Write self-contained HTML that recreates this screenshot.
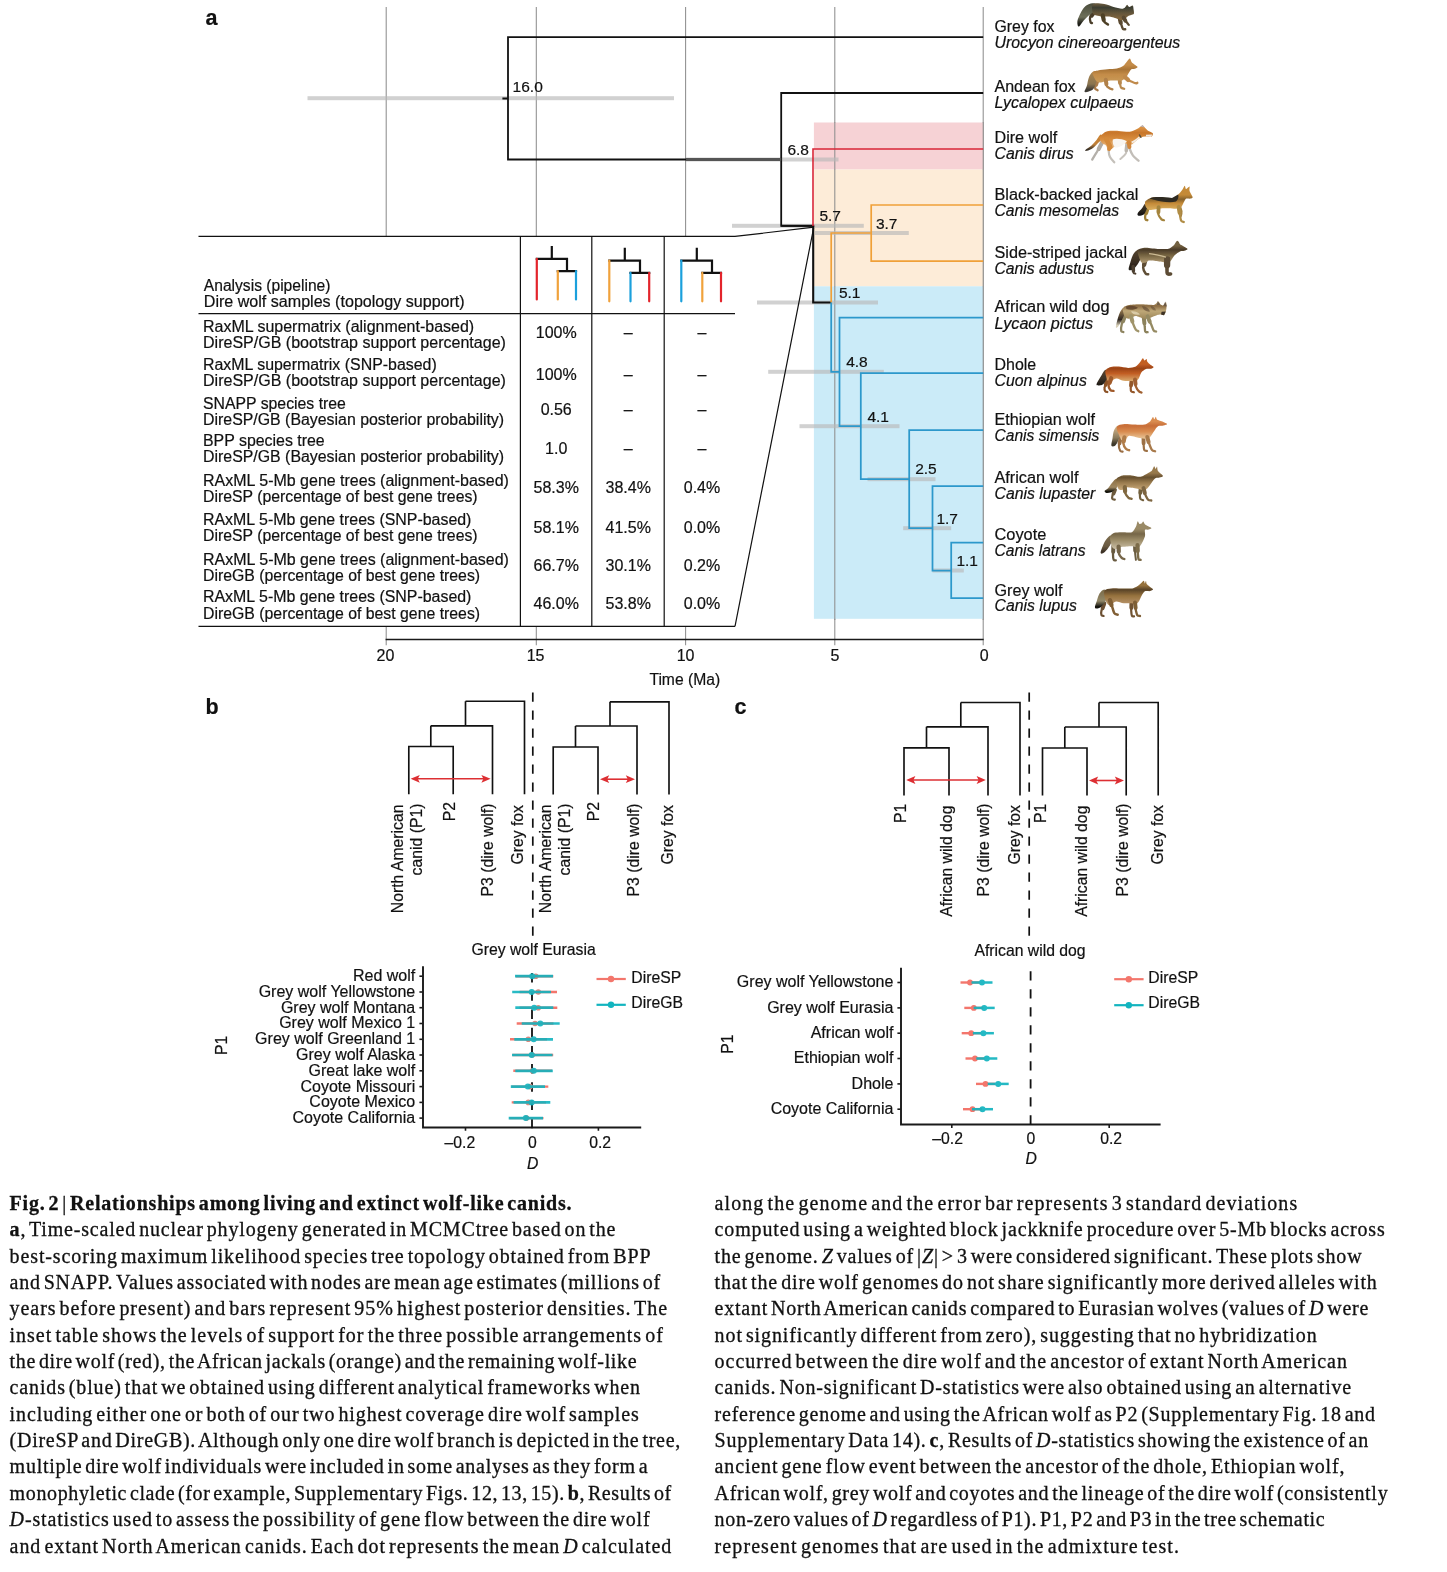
<!DOCTYPE html>
<html lang="en"><head><meta charset="utf-8"><title>Fig. 2 | Relationships among living and extinct wolf-like canids</title>
<style>
html,body{margin:0;padding:0;background:#fff;}
body{width:1447px;height:1572px;overflow:hidden;position:relative;}
svg{position:absolute;left:0;top:0;display:block;will-change:transform;}
svg text{font-family:"Liberation Sans",Arial,Helvetica,sans-serif;fill:#111;stroke:#111;stroke-width:0.2px;}
svg text.cap{font-family:"Liberation Serif","Times New Roman",Times,serif;font-size:20.0px;word-spacing:-2.8px;fill:#111;stroke:#111;stroke-width:0.3px;}
</style></head><body>
<svg width="1447" height="1572" viewBox="0 0 1447 1572">
<g id="panel-a">
<line x1="386.2" y1="7" x2="386.2" y2="645.2" stroke="#8e8e8e" stroke-width="1.05"/>
<line x1="536.3" y1="7" x2="536.3" y2="645.2" stroke="#8e8e8e" stroke-width="1.05"/>
<line x1="685.6" y1="7" x2="685.6" y2="645.2" stroke="#8e8e8e" stroke-width="1.05"/>
<line x1="834.8" y1="7" x2="834.8" y2="645.2" stroke="#8e8e8e" stroke-width="1.05"/>
<line x1="983.2" y1="7" x2="983.2" y2="645.2" stroke="#8e8e8e" stroke-width="1.05"/>
<rect x="813.9" y="122.5" width="169.3" height="47" fill="#f6d2d5"/>
<rect x="813.9" y="169.5" width="169.3" height="116.8" fill="#fdecd8"/>
<rect x="813.9" y="286.3" width="169.3" height="332.5" fill="#cbebf8"/>
<line x1="834.8" y1="122" x2="834.8" y2="620" stroke="#8e8e8e" stroke-width="1.05"/>
<line x1="983.2" y1="122" x2="983.2" y2="620" stroke="#8e8e8e" stroke-width="1.05"/>
<polygon points="198,236.4 735,236.4 735,626.4 198,626.4" fill="#fff"/>
<rect x="307.5" y="96.2" width="366.5" height="4" fill="#b8b8b8" fill-opacity="0.65"/>
<rect x="686" y="157.5" width="152.5" height="4" fill="#b8b8b8" fill-opacity="0.65"/>
<rect x="732" y="223.8" width="131.8" height="4" fill="#b8b8b8" fill-opacity="0.65"/>
<rect x="815" y="231.0" width="93.8" height="4" fill="#b8b8b8" fill-opacity="0.65"/>
<rect x="757" y="300.5" width="121.0" height="4" fill="#b8b8b8" fill-opacity="0.65"/>
<rect x="768.2" y="369.8" width="115.6" height="4" fill="#b8b8b8" fill-opacity="0.65"/>
<rect x="799.5" y="424.2" width="100.0" height="4" fill="#b8b8b8" fill-opacity="0.65"/>
<rect x="867.5" y="477.2" width="68.0" height="4" fill="#b8b8b8" fill-opacity="0.65"/>
<rect x="903.2" y="526.2" width="48.0" height="4" fill="#b8b8b8" fill-opacity="0.65"/>
<rect x="932.5" y="568.5" width="31.3" height="4" fill="#b8b8b8" fill-opacity="0.65"/>
<path d="M983.2 37.1 H508 V159.5 H781.2 M502.4 98.5 H508 M983.2 93 H781.2 V225.8 H813" stroke="#111" fill="none" stroke-width="1.8"/>
<path d="M686 159.5 H781.2" stroke="#555" fill="none" stroke-width="3"/>
<path d="M813.2 225.8 V302.5 H831.2" stroke="#111" fill="none" stroke-width="2.1"/>
<path d="M781.2 225.8 H814.2" stroke="#111" fill="none" stroke-width="1.9"/>
<path d="M983.2 149 H813 V226" stroke="#d92738" fill="none" stroke-width="1.6"/>
<path d="M831.2 302.5 V233 H871.2 M983.2 205 H871.2 V261.2 H983.2" stroke="#f0a038" fill="none" stroke-width="1.7"/>
<path d="M831.2 302.5 V371.8 H839.5 M983.2 317.5 H839.5 V426.2 H860.8 M983.2 373.2 H860.8 V479.2 H909.2 M983.2 430 H909.2 V528.2 H932.5 M983.2 486.2 H932.5 V570.5 H951.2 M983.2 542.5 H951.2 V598.2 H983.2" stroke="#2c98cb" fill="none" stroke-width="1.75"/>
<path d="M735 236.4 L814 227.2 M735 626.4 L813.6 228" stroke="#111" fill="none" stroke-width="1.2"/>
<text x="512.6" y="92" font-size="15.5">16.0</text>
<text x="787.4" y="154.5" font-size="15.5">6.8</text>
<text x="819.4" y="220.8" font-size="15.5">5.7</text>
<text x="875.9" y="228.8" font-size="15.5">3.7</text>
<text x="838.9" y="297.5" font-size="15.5">5.1</text>
<text x="846.1999999999999" y="366.8" font-size="15.5">4.8</text>
<text x="867.4" y="422" font-size="15.5">4.1</text>
<text x="915.1999999999999" y="473.8" font-size="15.5">2.5</text>
<text x="936.4" y="523.8" font-size="15.5">1.7</text>
<text x="956.4" y="565.5" font-size="15.5">1.1</text>
<text x="994.5" y="32" font-size="16.0" textLength="59.9" lengthAdjust="spacingAndGlyphs">Grey fox</text>
<text x="994.5" y="48" font-size="16.0" font-style="italic" textLength="185.8" lengthAdjust="spacingAndGlyphs">Urocyon cinereoargenteus</text>
<text x="994.5" y="91.8" font-size="16.0" textLength="81.1" lengthAdjust="spacingAndGlyphs">Andean fox</text>
<text x="994.5" y="107.6" font-size="16.0" font-style="italic" textLength="139.3" lengthAdjust="spacingAndGlyphs">Lycalopex culpaeus</text>
<text x="994.5" y="142.6" font-size="16.0" textLength="62.7" lengthAdjust="spacingAndGlyphs">Dire wolf</text>
<text x="994.5" y="158.8" font-size="16.0" font-style="italic" textLength="79.1" lengthAdjust="spacingAndGlyphs">Canis dirus</text>
<text x="994.5" y="200" font-size="16.0" textLength="143.8" lengthAdjust="spacingAndGlyphs">Black-backed jackal</text>
<text x="994.5" y="215.8" font-size="16.0" font-style="italic" textLength="124.6" lengthAdjust="spacingAndGlyphs">Canis mesomelas</text>
<text x="994.5" y="257.6" font-size="16.0" textLength="132.5" lengthAdjust="spacingAndGlyphs">Side-striped jackal</text>
<text x="994.5" y="273.8" font-size="16.0" font-style="italic" textLength="99.7" lengthAdjust="spacingAndGlyphs">Canis adustus</text>
<text x="994.5" y="311.8" font-size="16.0" textLength="115.0" lengthAdjust="spacingAndGlyphs">African wild dog</text>
<text x="994.5" y="328.6" font-size="16.0" font-style="italic" textLength="98.6" lengthAdjust="spacingAndGlyphs">Lycaon pictus</text>
<text x="994.5" y="369.6" font-size="16.0" textLength="41.7" lengthAdjust="spacingAndGlyphs">Dhole</text>
<text x="994.5" y="386.2" font-size="16.0" font-style="italic" textLength="92.3" lengthAdjust="spacingAndGlyphs">Cuon alpinus</text>
<text x="994.5" y="425" font-size="16.0" textLength="100.5" lengthAdjust="spacingAndGlyphs">Ethiopian wolf</text>
<text x="994.5" y="441.2" font-size="16.0" font-style="italic" textLength="104.7" lengthAdjust="spacingAndGlyphs">Canis simensis</text>
<text x="994.5" y="482.6" font-size="16.0" textLength="83.9" lengthAdjust="spacingAndGlyphs">African wolf</text>
<text x="994.5" y="498.8" font-size="16.0" font-style="italic" textLength="100.8" lengthAdjust="spacingAndGlyphs">Canis lupaster</text>
<text x="994.5" y="539.6" font-size="16.0" textLength="51.9" lengthAdjust="spacingAndGlyphs">Coyote</text>
<text x="994.5" y="555.6" font-size="16.0" font-style="italic" textLength="91.0" lengthAdjust="spacingAndGlyphs">Canis latrans</text>
<text x="994.5" y="595.8" font-size="16.0" textLength="68.1" lengthAdjust="spacingAndGlyphs">Grey wolf</text>
<text x="994.5" y="611.4" font-size="16.0" font-style="italic" textLength="82.4" lengthAdjust="spacingAndGlyphs">Canis lupus</text>
<path d="M198.5 236.4 H735 M198.5 313.6 H735 M198.5 626.4 H735 M520.4 236.4 V626.4 M591.8 236.4 V626.4 M664.2 236.4 V626.4" stroke="#111" fill="none" stroke-width="1.2"/>
<path d="M551.8 247 V258.8 M536.8 258.8 H567 V271.1 M557.8 271.1 H576" stroke="#111" fill="none" stroke-width="2.2" stroke-linecap="square"/><path d="M536.8 258.8 V299.5" stroke="#e3242b" fill="none" stroke-width="2.2" stroke-linecap="round"/><path d="M557.8 271.1 V299.5" stroke="#f0a23c" fill="none" stroke-width="2.2" stroke-linecap="round"/><path d="M576 271.1 V299.5" stroke="#1ba0dc" fill="none" stroke-width="2.2" stroke-linecap="round"/>
<path d="M624.8 248.8 V260.6 M609.3 260.6 H640 V272.90000000000003 M630.5 272.90000000000003 H649.2" stroke="#111" fill="none" stroke-width="2.2" stroke-linecap="square"/><path d="M609.3 260.6 V301.3" stroke="#f0a23c" fill="none" stroke-width="2.2" stroke-linecap="round"/><path d="M630.5 272.90000000000003 V301.3" stroke="#1ba0dc" fill="none" stroke-width="2.2" stroke-linecap="round"/><path d="M649.2 272.90000000000003 V301.3" stroke="#e3242b" fill="none" stroke-width="2.2" stroke-linecap="round"/>
<path d="M696.8 248.8 V260.6 M681.3 260.6 H712 V272.90000000000003 M702.3 272.90000000000003 H721" stroke="#111" fill="none" stroke-width="2.2" stroke-linecap="square"/><path d="M681.3 260.6 V301.3" stroke="#1ba0dc" fill="none" stroke-width="2.2" stroke-linecap="round"/><path d="M702.3 272.90000000000003 V301.3" stroke="#f0a23c" fill="none" stroke-width="2.2" stroke-linecap="round"/><path d="M721 272.90000000000003 V301.3" stroke="#e3242b" fill="none" stroke-width="2.2" stroke-linecap="round"/>
<text x="203.8" y="290.8" font-size="16.0" textLength="126.7" lengthAdjust="spacingAndGlyphs">Analysis (pipeline)</text>
<text x="203.8" y="307" font-size="16.0" textLength="260.9" lengthAdjust="spacingAndGlyphs">Dire wolf samples (topology support)</text>
<text x="203" y="331.8" font-size="16.0" textLength="271.1" lengthAdjust="spacingAndGlyphs">RaxML supermatrix (alignment-based)</text>
<text x="203" y="348" font-size="16.0" textLength="302.9" lengthAdjust="spacingAndGlyphs">DireSP/GB (bootstrap support percentage)</text>
<text x="556.2" y="338.2" font-size="16.0" text-anchor="middle">100%</text>
<text x="628.2" y="338.2" font-size="16.0" text-anchor="middle">–</text>
<text x="702" y="338.2" font-size="16.0" text-anchor="middle">–</text>
<text x="203" y="370" font-size="16.0" textLength="233.7" lengthAdjust="spacingAndGlyphs">RaxML supermatrix (SNP-based)</text>
<text x="203" y="386.2" font-size="16.0" textLength="302.9" lengthAdjust="spacingAndGlyphs">DireSP/GB (bootstrap support percentage)</text>
<text x="556.2" y="379.5" font-size="16.0" text-anchor="middle">100%</text>
<text x="628.2" y="379.5" font-size="16.0" text-anchor="middle">–</text>
<text x="702" y="379.5" font-size="16.0" text-anchor="middle">–</text>
<text x="203" y="408.8" font-size="16.0" textLength="142.9" lengthAdjust="spacingAndGlyphs">SNAPP species tree</text>
<text x="203" y="425" font-size="16.0" textLength="301.1" lengthAdjust="spacingAndGlyphs">DireSP/GB (Bayesian posterior probability)</text>
<text x="556.2" y="414.5" font-size="16.0" text-anchor="middle">0.56</text>
<text x="628.2" y="414.5" font-size="16.0" text-anchor="middle">–</text>
<text x="702" y="414.5" font-size="16.0" text-anchor="middle">–</text>
<text x="203" y="445.8" font-size="16.0" textLength="121.7" lengthAdjust="spacingAndGlyphs">BPP species tree</text>
<text x="203" y="462.4" font-size="16.0" textLength="301.1" lengthAdjust="spacingAndGlyphs">DireSP/GB (Bayesian posterior probability)</text>
<text x="556.2" y="453.8" font-size="16.0" text-anchor="middle">1.0</text>
<text x="628.2" y="453.8" font-size="16.0" text-anchor="middle">–</text>
<text x="702" y="453.8" font-size="16.0" text-anchor="middle">–</text>
<text x="203" y="486.2" font-size="16.0" textLength="305.9" lengthAdjust="spacingAndGlyphs">RAxML 5-Mb gene trees (alignment-based)</text>
<text x="203" y="502" font-size="16.0" textLength="274.6" lengthAdjust="spacingAndGlyphs">DireSP (percentage of best gene trees)</text>
<text x="556.2" y="492.5" font-size="16.0" text-anchor="middle">58.3%</text>
<text x="628.2" y="492.5" font-size="16.0" text-anchor="middle">38.4%</text>
<text x="702" y="492.5" font-size="16.0" text-anchor="middle">0.4%</text>
<text x="203" y="524.5" font-size="16.0" textLength="268.4" lengthAdjust="spacingAndGlyphs">RAxML 5-Mb gene trees (SNP-based)</text>
<text x="203" y="540.8" font-size="16.0" textLength="274.6" lengthAdjust="spacingAndGlyphs">DireSP (percentage of best gene trees)</text>
<text x="556.2" y="532.5" font-size="16.0" text-anchor="middle">58.1%</text>
<text x="628.2" y="532.5" font-size="16.0" text-anchor="middle">41.5%</text>
<text x="702" y="532.5" font-size="16.0" text-anchor="middle">0.0%</text>
<text x="203" y="564.5" font-size="16.0" textLength="305.9" lengthAdjust="spacingAndGlyphs">RAxML 5-Mb gene trees (alignment-based)</text>
<text x="203" y="580.8" font-size="16.0" textLength="277.1" lengthAdjust="spacingAndGlyphs">DireGB (percentage of best gene trees)</text>
<text x="556.2" y="571.2" font-size="16.0" text-anchor="middle">66.7%</text>
<text x="628.2" y="571.2" font-size="16.0" text-anchor="middle">30.1%</text>
<text x="702" y="571.2" font-size="16.0" text-anchor="middle">0.2%</text>
<text x="203" y="602" font-size="16.0" textLength="268.4" lengthAdjust="spacingAndGlyphs">RAxML 5-Mb gene trees (SNP-based)</text>
<text x="203" y="618.8" font-size="16.0" textLength="277.1" lengthAdjust="spacingAndGlyphs">DireGB (percentage of best gene trees)</text>
<text x="556.2" y="608.8" font-size="16.0" text-anchor="middle">46.0%</text>
<text x="628.2" y="608.8" font-size="16.0" text-anchor="middle">53.8%</text>
<text x="702" y="608.8" font-size="16.0" text-anchor="middle">0.0%</text>
<path d="M385.6 639.5 H983.7" stroke="#1a1a1a" fill="none" stroke-width="1.7"/>
<text x="385.4" y="661.2" font-size="16.0" text-anchor="middle">20</text>
<text x="535.6" y="661.2" font-size="16.0" text-anchor="middle">15</text>
<text x="685.6" y="661.2" font-size="16.0" text-anchor="middle">10</text>
<text x="835" y="661.2" font-size="16.0" text-anchor="middle">5</text>
<text x="984.2" y="661.2" font-size="16.0" text-anchor="middle">0</text>
<text x="684.8" y="684.8" font-size="16.0" text-anchor="middle" textLength="70.8" lengthAdjust="spacingAndGlyphs">Time (Ma)</text>
<text x="205.5" y="25" font-size="21.5" font-weight="bold" stroke-width="1.7" stroke-linejoin="round">a</text>
</g>
<g id="animals">
<defs><filter id="soft" x="-10%" y="-10%" width="120%" height="120%"><feGaussianBlur stdDeviation="0.45"/></filter><linearGradient id="b-greyfox" gradientUnits="userSpaceOnUse" x1="0" y1="3.4" x2="0" y2="20.2"><stop offset="0" stop-color="#62543a"/><stop offset="0.068" stop-color="#62543a"/><stop offset="0.248" stop-color="#3c3e32"/><stop offset="0.554" stop-color="#62543a"/><stop offset="0.97" stop-color="#86683e"/></linearGradient><linearGradient id="t-greyfox" gradientUnits="userSpaceOnUse" x1="0" y1="3.4" x2="0" y2="26.0"><stop offset="0" stop-color="#4a4c3c"/><stop offset="0.6" stop-color="#6e705a"/><stop offset="0.9" stop-color="#1e1e18"/></linearGradient><linearGradient id="b-andean" gradientUnits="userSpaceOnUse" x1="0" y1="58.6" x2="0" y2="82.5"><stop offset="0" stop-color="#c48c48"/><stop offset="0.272" stop-color="#c48c48"/><stop offset="0.452" stop-color="#a87436"/><stop offset="0.666" stop-color="#c48c48"/><stop offset="0.97" stop-color="#c99a58"/></linearGradient><linearGradient id="t-andean" gradientUnits="userSpaceOnUse" x1="0" y1="72.3" x2="0" y2="91.8"><stop offset="0" stop-color="#a88450"/><stop offset="0.6" stop-color="#8a7450"/><stop offset="0.9" stop-color="#3e3a34"/></linearGradient><linearGradient id="b-dire" gradientUnits="userSpaceOnUse" x1="0" y1="125.6" x2="0" y2="150.0"><stop offset="0" stop-color="#d98f40"/><stop offset="0.112" stop-color="#d98f40"/><stop offset="0.292" stop-color="#c8762a"/><stop offset="0.578" stop-color="#d98f40"/><stop offset="0.97" stop-color="#e9c8a0"/></linearGradient><linearGradient id="t-dire" gradientUnits="userSpaceOnUse" x1="0" y1="134.6" x2="0" y2="150.8"><stop offset="0" stop-color="#c9802f"/><stop offset="0.6" stop-color="#c08038"/><stop offset="0.9" stop-color="#3a3228"/></linearGradient><linearGradient id="b-bbjackal" gradientUnits="userSpaceOnUse" x1="0" y1="185.7" x2="0" y2="210.0"><stop offset="0" stop-color="#c48a38"/><stop offset="0.378" stop-color="#c48a38"/><stop offset="0.558" stop-color="#86622c"/><stop offset="0.724" stop-color="#c48a38"/><stop offset="0.97" stop-color="#d8ac5c"/></linearGradient><linearGradient id="t-bbjackal" gradientUnits="userSpaceOnUse" x1="0" y1="203.8" x2="0" y2="215.8"><stop offset="0" stop-color="#4a3c28"/><stop offset="0.6" stop-color="#2a241c"/><stop offset="0.9" stop-color="#151412"/></linearGradient><linearGradient id="b-ssjackal" gradientUnits="userSpaceOnUse" x1="0" y1="241.0" x2="0" y2="262.5"><stop offset="0" stop-color="#72603f"/><stop offset="0.227" stop-color="#72603f"/><stop offset="0.407" stop-color="#4a3a28"/><stop offset="0.641" stop-color="#72603f"/><stop offset="0.97" stop-color="#a8926a"/></linearGradient><linearGradient id="t-ssjackal" gradientUnits="userSpaceOnUse" x1="0" y1="250.0" x2="0" y2="269.9"><stop offset="0" stop-color="#54422e"/><stop offset="0.6" stop-color="#3a2e22"/><stop offset="0.9" stop-color="#26201a"/></linearGradient><linearGradient id="b-awd" gradientUnits="userSpaceOnUse" x1="0" y1="301.5" x2="0" y2="318.6"><stop offset="0" stop-color="#bfa878"/><stop offset="0.067" stop-color="#bfa878"/><stop offset="0.247" stop-color="#8a6a40"/><stop offset="0.553" stop-color="#bfa878"/><stop offset="0.97" stop-color="#a08a5c"/></linearGradient><linearGradient id="t-awd" gradientUnits="userSpaceOnUse" x1="0" y1="308.1" x2="0" y2="327.4"><stop offset="0" stop-color="#a88858"/><stop offset="0.6" stop-color="#2e2620"/><stop offset="0.9" stop-color="#d8d0b8"/></linearGradient><linearGradient id="b-dhole" gradientUnits="userSpaceOnUse" x1="0" y1="358.3" x2="0" y2="381.4"><stop offset="0" stop-color="#c25e24"/><stop offset="0.262" stop-color="#c25e24"/><stop offset="0.442" stop-color="#9c4416"/><stop offset="0.660" stop-color="#c25e24"/><stop offset="0.97" stop-color="#d8a86c"/></linearGradient><linearGradient id="t-dhole" gradientUnits="userSpaceOnUse" x1="0" y1="369.8" x2="0" y2="385.4"><stop offset="0" stop-color="#5a4630"/><stop offset="0.6" stop-color="#3a3024"/><stop offset="0.9" stop-color="#221e18"/></linearGradient><linearGradient id="b-ethiopian" gradientUnits="userSpaceOnUse" x1="0" y1="416.7" x2="0" y2="440.6"><stop offset="0" stop-color="#d98c50"/><stop offset="0.202" stop-color="#d98c50"/><stop offset="0.382" stop-color="#c86e38"/><stop offset="0.627" stop-color="#d98c50"/><stop offset="0.97" stop-color="#ead0a6"/></linearGradient><linearGradient id="t-ethiopian" gradientUnits="userSpaceOnUse" x1="0" y1="425.9" x2="0" y2="445.8"><stop offset="0" stop-color="#d8b88c"/><stop offset="0.6" stop-color="#8a7a5c"/><stop offset="0.9" stop-color="#3e382c"/></linearGradient><linearGradient id="b-africanwolf" gradientUnits="userSpaceOnUse" x1="0" y1="466.3" x2="0" y2="490.2"><stop offset="0" stop-color="#97794c"/><stop offset="0.283" stop-color="#97794c"/><stop offset="0.463" stop-color="#66502f"/><stop offset="0.672" stop-color="#97794c"/><stop offset="0.97" stop-color="#c6a676"/></linearGradient><linearGradient id="t-africanwolf" gradientUnits="userSpaceOnUse" x1="0" y1="478.7" x2="0" y2="492.9"><stop offset="0" stop-color="#8a6e44"/><stop offset="0.6" stop-color="#a08860"/><stop offset="0.9" stop-color="#18160f"/></linearGradient><linearGradient id="b-coyote" gradientUnits="userSpaceOnUse" x1="0" y1="521.4" x2="0" y2="549.0"><stop offset="0" stop-color="#9a8a66"/><stop offset="0.275" stop-color="#9a8a66"/><stop offset="0.455" stop-color="#766648"/><stop offset="0.667" stop-color="#9a8a66"/><stop offset="0.97" stop-color="#c6baa0"/></linearGradient><linearGradient id="t-coyote" gradientUnits="userSpaceOnUse" x1="0" y1="535.6" x2="0" y2="553.3"><stop offset="0" stop-color="#7c6c4c"/><stop offset="0.6" stop-color="#6a5a42"/><stop offset="0.9" stop-color="#3e3226"/></linearGradient><linearGradient id="b-greywolf" gradientUnits="userSpaceOnUse" x1="0" y1="580.8" x2="0" y2="605.0"><stop offset="0" stop-color="#96723e"/><stop offset="0.190" stop-color="#96723e"/><stop offset="0.370" stop-color="#5a4428"/><stop offset="0.620" stop-color="#96723e"/><stop offset="0.97" stop-color="#b8946a"/></linearGradient><linearGradient id="t-greywolf" gradientUnits="userSpaceOnUse" x1="0" y1="589.5" x2="0" y2="608.6"><stop offset="0" stop-color="#7a6a48"/><stop offset="0.6" stop-color="#928868"/><stop offset="0.9" stop-color="#14120e"/></linearGradient></defs>
<g id="greyfox" filter="url(#soft)"><path d="M1119.8 19.6C1120.0 20.4 1120.8 22.9 1121.3 24.5C1121.8 26.1 1122.3 28.2 1123.0 29.0C1123.7 29.8 1124.8 29.2 1125.2 29.2" fill="none" stroke="#5a4a30" stroke-width="2.4" stroke-linecap="round" stroke-linejoin="round"/><path d="M1119.8 18.4 L1120.7 22.6" fill="none" stroke="#5a4a30" stroke-width="4.20" stroke-linecap="round"/><path d="M1094.0 13.8C1093.4 14.3 1090.8 15.4 1090.2 16.8C1089.6 18.2 1090.3 21.4 1090.6 22.4C1090.9 23.4 1091.8 22.9 1092.0 23.0" fill="none" stroke="#4a3e2a" stroke-width="2.3" stroke-linecap="round" stroke-linejoin="round"/><path d="M1094.0 12.6 L1091.6 15.7" fill="none" stroke="#4a3e2a" stroke-width="4.02" stroke-linecap="round"/><path d="M1094.9 3.4C1093.6 2.8 1090.1 3.5 1088.1 4.4C1086.1 5.3 1084.4 7.0 1083.1 8.7C1081.8 10.3 1080.9 12.3 1080.0 14.3C1079.1 16.3 1077.9 18.7 1077.5 20.6C1077.1 22.5 1077.5 24.9 1077.8 25.8C1078.1 26.7 1078.6 26.9 1079.6 26.0C1080.6 25.1 1082.2 22.3 1083.7 20.6C1085.2 18.9 1087.0 17.1 1088.7 15.6C1090.4 14.1 1092.5 13.1 1093.7 11.8C1094.9 10.5 1095.8 9.4 1096.0 8.0C1096.2 6.6 1096.2 4.0 1094.9 3.4Z" fill="url(#t-greyfox)"/><path d="M1092.0 6.0C1092.3 4.7 1093.3 3.7 1094.9 3.4C1096.5 3.1 1101.8 3.6 1104.3 4.1C1106.8 4.6 1111.3 6.3 1113.6 6.9C1115.9 7.5 1120.2 8.6 1121.7 8.7C1123.2 8.8 1124.3 7.9 1125.0 7.4C1125.7 6.9 1126.4 4.8 1127.0 4.7C1127.6 4.6 1128.4 6.8 1129.2 6.9C1130.0 7.0 1132.1 5.3 1132.7 5.6C1133.3 5.9 1133.4 8.3 1133.6 9.4C1133.8 10.5 1134.2 13.0 1133.9 13.7C1133.6 14.4 1131.9 14.7 1131.1 15.0C1130.3 15.3 1128.8 15.7 1128.0 16.2C1127.2 16.7 1125.8 18.4 1124.9 18.9C1124.0 19.4 1121.8 20.1 1121.0 20.2C1120.2 20.3 1120.0 19.8 1118.6 19.3C1117.2 18.8 1112.7 17.2 1110.5 16.8C1108.3 16.4 1104.3 16.8 1102.4 16.6C1100.5 16.4 1097.8 15.9 1096.5 15.5C1095.2 15.1 1093.6 14.8 1093.0 13.5C1092.4 12.2 1091.7 7.3 1092.0 6.0Z" fill="url(#b-greyfox)"/><path d="M1123.6 18.7C1124.1 19.2 1125.6 21.0 1126.5 22.0C1127.4 23.0 1128.4 24.4 1128.8 24.9" fill="none" stroke="#5a4a30" stroke-width="2.2" stroke-linecap="round" stroke-linejoin="round"/><path d="M1123.6 17.5 L1125.4 20.7" fill="none" stroke="#5a4a30" stroke-width="3.85" stroke-linecap="round"/><path d="M1102.8 16.5C1103.0 17.4 1103.4 20.5 1104.3 21.8C1105.2 23.1 1107.4 24.1 1108.0 24.5" fill="none" stroke="#4e4028" stroke-width="2.4" stroke-linecap="round" stroke-linejoin="round"/><path d="M1102.8 15.3 L1103.7 19.8" fill="none" stroke="#4e4028" stroke-width="4.20" stroke-linecap="round"/></g>
<g id="andean" filter="url(#soft)"><path d="M1119.6 80.5C1119.7 81.2 1120.0 83.3 1120.2 84.5C1120.5 85.7 1120.4 86.9 1121.1 87.6C1121.8 88.3 1123.7 88.6 1124.2 88.8" fill="none" stroke="#b8884e" stroke-width="2.2" stroke-linecap="round" stroke-linejoin="round"/><path d="M1119.6 79.3 L1120.0 83.0" fill="none" stroke="#b8884e" stroke-width="3.85" stroke-linecap="round"/><path d="M1097.2 82.0C1096.9 82.8 1095.5 85.4 1095.2 86.5C1094.9 87.6 1094.9 88.2 1095.3 88.8C1095.7 89.4 1097.2 90.0 1097.6 90.2" fill="none" stroke="#a87a48" stroke-width="2.3" stroke-linecap="round" stroke-linejoin="round"/><path d="M1097.2 80.8 L1096.0 84.8" fill="none" stroke="#a87a48" stroke-width="4.02" stroke-linecap="round"/><path d="M1092.4 72.3C1091.1 72.8 1089.6 75.6 1088.7 77.9C1087.8 80.2 1087.5 83.7 1086.8 86.0C1086.1 88.3 1084.2 90.9 1084.5 91.8C1084.8 92.7 1087.2 92.1 1088.7 91.6C1090.2 91.0 1092.4 90.3 1093.7 88.5C1095.0 86.7 1095.9 83.2 1096.4 81.0C1096.9 78.8 1097.2 76.5 1096.5 75.0C1095.8 73.5 1093.7 71.8 1092.4 72.3Z" fill="url(#t-andean)"/><path d="M1092.4 72.3C1092.7 71.0 1096.0 70.8 1098.0 70.4C1100.0 70.0 1104.9 69.4 1107.4 69.2C1109.9 69.0 1114.7 69.0 1116.8 68.6C1118.9 68.2 1121.6 67.0 1123.0 66.1C1124.4 65.2 1126.1 62.5 1127.0 61.5C1127.9 60.5 1129.3 58.5 1129.9 58.6C1130.5 58.7 1131.0 61.5 1131.7 62.3C1132.4 63.1 1134.0 64.2 1134.8 64.8C1135.6 65.4 1137.6 66.5 1137.6 67.0C1137.6 67.5 1135.7 68.5 1134.8 68.8C1133.9 69.1 1131.8 68.9 1131.1 69.4C1130.4 69.9 1129.9 71.2 1129.2 72.3C1128.5 73.4 1127.1 76.2 1126.1 77.3C1125.1 78.4 1123.0 80.2 1122.0 80.6C1121.0 81.0 1120.1 80.6 1118.6 80.6C1117.1 80.6 1112.3 80.3 1110.5 80.4C1108.7 80.5 1106.4 81.1 1104.9 81.4C1103.4 81.7 1100.3 82.7 1099.0 82.5C1097.7 82.3 1096.4 81.4 1095.5 80.0C1094.6 78.6 1092.1 73.6 1092.4 72.3Z" fill="url(#b-andean)"/><path d="M1124.9 78.2C1125.8 78.7 1128.2 80.2 1130.0 81.0C1131.8 81.8 1134.3 82.9 1135.5 83.2C1136.7 83.5 1137.0 82.9 1137.3 82.8" fill="none" stroke="#c08a4c" stroke-width="2.4" stroke-linecap="round" stroke-linejoin="round"/><path d="M1124.9 77.0 L1128.1 79.9" fill="none" stroke="#c08a4c" stroke-width="4.20" stroke-linecap="round"/><path d="M1105.8 81.0C1106.0 81.8 1106.2 84.8 1106.8 86.0C1107.4 87.2 1108.6 87.6 1109.5 88.2C1110.4 88.8 1111.9 89.2 1112.4 89.4" fill="none" stroke="#b08048" stroke-width="2.3" stroke-linecap="round" stroke-linejoin="round"/><path d="M1105.8 79.8 L1106.4 84.1" fill="none" stroke="#b08048" stroke-width="4.02" stroke-linecap="round"/></g>
<g id="dire" filter="url(#soft)"><path d="M1127.0 145.6C1126.8 146.9 1127.0 151.2 1125.9 153.4C1124.8 155.6 1121.3 158.1 1120.4 159.0" fill="none" stroke="#c8c4be" stroke-width="2.1" stroke-linecap="round" stroke-linejoin="round"/><path d="M1127.0 144.4 L1126.3 150.4" fill="none" stroke="#bcb6ae" stroke-width="3.68" stroke-linecap="round"/><path d="M1102.1 143.6C1101.2 145.1 1098.2 149.6 1096.6 152.3C1094.9 155.0 1092.9 158.4 1092.2 159.6" fill="none" stroke="#b4b0aa" stroke-width="2.3" stroke-linecap="round" stroke-linejoin="round"/><path d="M1102.1 142.4 L1098.7 149.0" fill="none" stroke="#b0aaa2" stroke-width="4.02" stroke-linecap="round"/><path d="M1100.6 134.6C1099.7 134.8 1098.0 138.2 1096.5 140.0C1095.0 141.8 1093.3 143.8 1091.5 145.5C1089.7 147.2 1086.2 149.0 1085.4 149.9C1084.7 150.8 1085.7 151.1 1087.0 150.8C1088.3 150.5 1091.1 149.4 1093.0 148.0C1094.9 146.6 1097.1 144.2 1098.6 142.6C1100.1 141.0 1101.7 139.8 1102.0 138.5C1102.3 137.2 1101.5 134.3 1100.6 134.6Z" fill="url(#t-dire)"/><path d="M1099.4 137.5C1099.6 136.1 1102.6 133.8 1103.8 132.9C1105.0 132.0 1106.7 131.3 1108.7 131.0C1110.7 130.7 1115.9 130.9 1118.7 131.0C1121.5 131.1 1127.2 132.1 1129.8 131.8C1132.4 131.5 1136.5 129.3 1138.0 128.5C1139.5 127.7 1140.6 126.4 1141.2 126.0C1141.8 125.6 1142.3 125.3 1142.8 125.6C1143.3 125.9 1144.5 127.3 1145.2 128.0C1145.9 128.7 1147.0 130.0 1148.0 130.7C1149.0 131.4 1152.6 132.7 1153.0 133.5C1153.4 134.3 1152.3 136.4 1151.3 136.8C1150.3 137.2 1146.6 136.3 1145.2 136.4C1143.8 136.5 1142.1 136.8 1140.8 137.5C1139.5 138.2 1136.6 140.4 1135.3 141.4C1134.0 142.4 1132.1 144.5 1131.0 144.8C1129.9 145.1 1128.2 144.3 1127.0 144.0C1125.8 143.7 1123.5 142.5 1122.0 142.8C1120.5 143.1 1117.2 145.2 1115.9 146.0C1114.6 146.8 1113.0 148.0 1112.0 148.5C1111.0 149.0 1109.4 150.5 1108.5 150.0C1107.6 149.5 1106.4 145.9 1105.5 145.0C1104.6 144.1 1102.8 144.2 1102.0 143.2C1101.2 142.2 1099.2 138.9 1099.4 137.5Z" fill="url(#b-dire)"/><path d="M1128.8 143.5C1129.0 144.4 1129.1 147.0 1129.8 149.0C1130.5 151.0 1131.5 153.6 1133.0 155.6C1134.5 157.6 1137.7 159.9 1138.6 160.8" fill="none" stroke="#c2beb8" stroke-width="2.3" stroke-linecap="round" stroke-linejoin="round"/><path d="M1128.8 142.3 L1129.4 146.9" fill="none" stroke="#d2873a" stroke-width="4.02" stroke-linecap="round"/><path d="M1109.5 146.0C1109.4 146.9 1108.6 149.4 1108.7 151.2C1108.8 153.0 1109.0 154.8 1109.9 156.7C1110.8 158.5 1113.6 161.4 1114.3 162.3" fill="none" stroke="#c4c0ba" stroke-width="2.2" stroke-linecap="round" stroke-linejoin="round"/><path d="M1109.5 144.8 L1109.0 149.2" fill="none" stroke="#d48a3c" stroke-width="3.85" stroke-linecap="round"/><path d="M1112.8 139.5 C1116 138.2 1122 139 1126.8 141.2 C1124 145 1118.5 148 1115 147.4 C1113 145.5 1112.2 142.5 1112.8 139.5Z" fill="#f8f5f1"/><path d="M1140 137.4 C1138 139.4 1135.6 141.4 1132.4 143.2 L1131.2 141.8 C1134.4 140.4 1137 138.6 1138.6 136.6Z" fill="#f4ece2"/><path d="M1106.3 139.5 L1110.4 147.2" stroke="#d58a3a" stroke-width="4.6" stroke-linecap="round"/><path d="M1140.4 126.6 L1142.8 125 L1144.4 127.6 Z" fill="#b9b4ba"/><path d="M1146 134.8 L1152.4 134.6 L1151 137 L1146 136.6Z" fill="#efe9e2"/><path d="M1139.3 134.5 L1141.2 137.8" stroke="#4a4a3e" stroke-width="1.3"/></g>
<g id="bbjackal" filter="url(#soft)"><path d="M1180.0 209.0C1180.3 209.7 1181.5 211.7 1181.6 213.0C1181.7 214.3 1180.9 216.0 1180.8 216.6" fill="none" stroke="#a88440" stroke-width="1.8" stroke-linecap="round" stroke-linejoin="round"/><path d="M1180.0 207.8 L1181.0 211.5" fill="none" stroke="#a88440" stroke-width="3.15" stroke-linecap="round"/><path d="M1147.6 209.4C1147.2 210.4 1145.5 213.9 1145.2 215.6C1144.9 217.3 1145.2 218.6 1145.6 219.4C1146.0 220.2 1147.1 220.1 1147.4 220.2" fill="none" stroke="#a08038" stroke-width="2.3" stroke-linecap="round" stroke-linejoin="round"/><path d="M1147.6 208.2 L1146.1 213.2" fill="none" stroke="#a08038" stroke-width="4.02" stroke-linecap="round"/><path d="M1145.0 203.8C1144.1 204.3 1143.0 207.1 1141.8 208.6C1140.6 210.1 1138.4 211.9 1137.8 213.1C1137.2 214.3 1137.4 215.6 1138.4 215.8C1139.4 216.0 1142.3 215.6 1143.7 214.5C1145.1 213.4 1146.0 210.8 1146.6 209.3C1147.2 207.8 1147.5 206.4 1147.2 205.5C1146.9 204.6 1145.9 203.3 1145.0 203.8Z" fill="url(#t-bbjackal)"/><path d="M1145.0 204.5C1144.9 203.6 1144.7 201.9 1145.6 201.0C1146.5 200.1 1149.8 198.0 1152.0 197.5C1154.2 197.0 1159.5 197.4 1162.2 197.5C1164.9 197.6 1170.1 198.9 1172.3 198.4C1174.5 197.9 1177.3 195.2 1178.7 194.0C1180.1 192.8 1181.7 190.6 1182.5 189.5C1183.3 188.4 1184.2 185.8 1184.7 185.7C1185.2 185.6 1185.4 188.9 1186.0 189.0C1186.6 189.1 1189.0 186.2 1189.5 186.4C1190.0 186.6 1189.1 189.3 1189.5 190.8C1189.9 192.3 1192.6 196.3 1192.7 197.3C1192.8 198.3 1191.0 198.4 1190.1 198.6C1189.2 198.8 1187.1 198.1 1186.3 198.6C1185.5 199.1 1184.5 201.1 1183.8 202.3C1183.1 203.5 1182.0 206.7 1181.0 207.6C1180.0 208.5 1177.8 208.7 1176.1 208.8C1174.4 208.9 1170.7 208.3 1168.5 208.2C1166.3 208.1 1161.5 208.2 1159.6 208.4C1157.7 208.6 1155.3 209.4 1154.0 209.6C1152.7 209.8 1150.5 210.2 1149.5 210.0C1148.5 209.8 1147.1 208.7 1146.5 208.0C1145.9 207.3 1145.1 205.4 1145.0 204.5Z" fill="url(#b-bbjackal)"/><path d="M1178.6 208.0C1178.8 209.3 1179.6 213.5 1180.0 215.6C1180.4 217.7 1180.6 219.6 1181.2 220.7C1181.8 221.8 1183.4 221.8 1183.8 222.0" fill="none" stroke="#b08c44" stroke-width="2.2" stroke-linecap="round" stroke-linejoin="round"/><path d="M1178.6 206.8 L1179.5 212.7" fill="none" stroke="#b08c44" stroke-width="3.85" stroke-linecap="round"/><path d="M1158.6 208.4C1158.5 209.4 1157.8 212.5 1158.3 214.3C1158.8 216.1 1160.5 218.4 1161.5 219.4C1162.5 220.4 1163.6 220.1 1164.0 220.2" fill="none" stroke="#a4843e" stroke-width="2.2" stroke-linecap="round" stroke-linejoin="round"/><path d="M1158.6 207.2 L1158.4 212.1" fill="none" stroke="#a4843e" stroke-width="3.85" stroke-linecap="round"/><path d="M1149.5 198.6 C1153 196.6 1162 196.8 1172 197.9 L1178.2 194.6 C1179 197 1178 199.6 1176 201.6 C1170 203 1160 201.6 1154 199.8 Z" fill="#2e2a20"/></g>
<g id="ssjackal" filter="url(#soft)"><path d="M1145.6 259.8C1145.2 261.1 1143.2 265.5 1143.2 267.8C1143.2 270.1 1144.8 272.4 1145.6 273.5C1146.4 274.6 1147.8 274.1 1148.2 274.2" fill="none" stroke="#5e4e36" stroke-width="2.5" stroke-linecap="round" stroke-linejoin="round"/><path d="M1145.6 258.6 L1144.1 264.8" fill="none" stroke="#5e4e36" stroke-width="4.38" stroke-linecap="round"/><path d="M1137.4 250.0C1136.1 250.6 1134.2 252.6 1132.9 255.0C1131.6 257.4 1130.4 262.1 1129.7 264.6C1129.0 267.1 1128.3 269.1 1128.9 269.9C1129.5 270.7 1131.9 270.4 1133.5 269.2C1135.1 268.0 1137.3 264.8 1138.6 262.7C1139.9 260.6 1141.1 258.2 1141.4 256.3C1141.7 254.4 1141.2 252.6 1140.5 251.5C1139.8 250.4 1138.7 249.4 1137.4 250.0Z" fill="url(#t-ssjackal)"/><path d="M1137.4 250.6C1137.7 249.5 1139.8 249.0 1141.0 248.6C1142.2 248.2 1143.9 247.6 1146.3 247.7C1148.7 247.8 1156.0 248.9 1159.0 249.0C1162.0 249.1 1166.6 249.2 1168.5 248.7C1170.4 248.2 1172.5 246.5 1173.6 245.5C1174.7 244.5 1176.1 241.5 1176.8 241.0C1177.5 240.5 1178.4 241.6 1178.8 242.0C1179.2 242.4 1179.4 243.7 1180.0 244.2C1180.6 244.7 1182.0 245.4 1183.0 246.0C1184.0 246.6 1187.4 248.4 1187.6 249.0C1187.8 249.6 1185.4 250.5 1184.4 250.8C1183.4 251.1 1181.3 250.8 1180.0 251.4C1178.7 252.0 1176.0 253.9 1174.9 255.0C1173.8 256.1 1172.4 258.6 1171.7 259.5C1171.0 260.4 1170.4 261.6 1169.5 262.0C1168.6 262.4 1166.5 262.3 1164.7 262.2C1162.9 262.1 1157.9 261.2 1155.8 261.0C1153.7 260.8 1150.3 260.4 1149.0 260.6C1147.7 260.8 1147.0 262.2 1146.0 262.5C1145.0 262.8 1142.4 263.2 1141.5 262.5C1140.6 261.8 1139.5 258.6 1139.0 257.0C1138.5 255.4 1137.1 251.7 1137.4 250.6Z" fill="url(#b-ssjackal)"/><path d="M1167.2 260.5C1167.2 261.8 1167.0 265.8 1167.0 268.0C1167.0 270.2 1166.8 272.6 1167.4 273.6C1168.0 274.6 1170.1 273.9 1170.6 274.0" fill="none" stroke="#5c4c34" stroke-width="3.6" stroke-linecap="round" stroke-linejoin="round"/><path d="M1167.2 259.3 L1167.1 265.1" fill="none" stroke="#5c4c34" stroke-width="6.30" stroke-linecap="round"/><path d="M1133.2 267.8C1133.3 268.6 1133.2 271.8 1133.6 272.8C1134.0 273.8 1135.1 273.5 1135.4 273.6" fill="none" stroke="#4e4030" stroke-width="2.0" stroke-linecap="round" stroke-linejoin="round"/><path d="M1133.2 266.6 L1133.4 270.9" fill="none" stroke="#4e4030" stroke-width="3.50" stroke-linecap="round"/><path d="M1149 253.6 C1155 254 1161 255.6 1166 257.2" stroke="#cdbb94" stroke-width="1.3" fill="none"/></g>
<g id="awd" filter="url(#soft)"><path d="M1143.8 318.4C1144.0 319.8 1144.5 324.3 1144.7 326.5C1145.0 328.7 1144.8 330.7 1145.3 331.6C1145.8 332.6 1147.2 332.1 1147.6 332.2" fill="none" stroke="#8c825c" stroke-width="2.3" stroke-linecap="round" stroke-linejoin="round"/><path d="M1143.8 317.2 L1144.4 323.4" fill="none" stroke="#8c825c" stroke-width="4.02" stroke-linecap="round"/><path d="M1125.0 317.0C1124.5 318.2 1122.4 321.7 1121.8 324.0C1121.2 326.3 1120.9 329.7 1121.2 331.0C1121.5 332.3 1123.0 331.8 1123.4 332.0" fill="none" stroke="#8e8460" stroke-width="2.3" stroke-linecap="round" stroke-linejoin="round"/><path d="M1125.0 315.8 L1123.0 321.3" fill="none" stroke="#8e8460" stroke-width="4.02" stroke-linecap="round"/><path d="M1123.1 308.1C1122.2 308.6 1120.9 310.5 1119.9 312.5C1118.9 314.5 1118.0 317.7 1117.3 320.2C1116.6 322.7 1115.7 326.4 1115.9 327.4C1116.1 328.3 1117.6 327.1 1118.6 325.9C1119.6 324.7 1120.8 322.2 1121.8 320.2C1122.8 318.2 1124.0 315.6 1124.5 313.8C1125.0 312.0 1125.2 310.4 1125.0 309.5C1124.8 308.6 1123.9 307.6 1123.1 308.1Z" fill="url(#t-awd)"/><path d="M1122.8 309.5C1122.8 308.2 1123.6 307.2 1124.5 306.6C1125.4 306.0 1127.2 305.2 1129.4 304.9C1131.6 304.6 1137.7 304.3 1140.9 304.3C1144.1 304.3 1151.5 305.1 1153.6 304.9C1155.7 304.7 1156.3 303.1 1157.0 302.6C1157.7 302.1 1158.2 301.2 1158.7 301.5C1159.2 301.8 1160.0 304.1 1160.6 304.6C1161.2 305.1 1162.3 305.7 1163.0 305.4C1163.7 305.1 1165.5 302.0 1166.0 302.2C1166.5 302.4 1166.5 305.5 1166.5 306.8C1166.5 308.1 1166.1 310.8 1165.7 311.9C1165.3 313.0 1164.5 314.8 1163.8 315.2C1163.1 315.6 1161.5 314.6 1160.6 314.6C1159.7 314.6 1158.1 314.8 1156.8 315.2C1155.5 315.6 1152.3 316.9 1151.0 317.4C1149.7 317.9 1148.0 318.5 1147.0 318.6C1146.0 318.7 1144.9 318.8 1143.4 318.4C1141.9 318.0 1137.5 316.0 1135.8 315.9C1134.1 315.8 1132.1 317.6 1131.0 318.0C1129.9 318.4 1128.4 318.9 1127.5 318.6C1126.6 318.3 1124.9 317.2 1124.3 316.0C1123.7 314.8 1122.8 310.8 1122.8 309.5Z" fill="url(#b-awd)"/><path d="M1147.6 317.6C1148.2 318.7 1150.0 321.9 1151.0 324.0C1152.0 326.1 1152.8 329.1 1153.6 330.3C1154.4 331.6 1155.7 331.3 1156.1 331.5" fill="none" stroke="#958a62" stroke-width="2.3" stroke-linecap="round" stroke-linejoin="round"/><path d="M1147.6 316.4 L1149.7 321.6" fill="none" stroke="#958a62" stroke-width="4.02" stroke-linecap="round"/><path d="M1131.0 317.4C1131.4 318.5 1132.4 321.9 1133.2 324.0C1134.0 326.1 1135.0 328.5 1135.8 329.7C1136.6 330.9 1137.9 330.9 1138.3 331.2" fill="none" stroke="#a0946a" stroke-width="2.3" stroke-linecap="round" stroke-linejoin="round"/><path d="M1131.0 316.2 L1132.4 321.5" fill="none" stroke="#a0946a" stroke-width="4.02" stroke-linecap="round"/><path d="M1126 306.6 C1130 305 1135 305.4 1138 307.8 C1135 310 1130 310.4 1126.4 309 Z" fill="#5a4028" opacity="0.8"/><path d="M1131 311.5 C1134 311 1138 312 1140 314.4 C1136 315.2 1132.6 314.4 1131 311.5 Z" fill="#e2d6b4" opacity="0.8"/><path d="M1150.5 306 C1153 306 1155.4 307.6 1156 310.4 C1153.4 310.8 1151 309 1150.5 306 Z" fill="#5a4430" opacity="0.5"/><path d="M1157.6 300.9 L1160.4 304.8 L1157 305 Z M1165.2 301.6 L1166.9 306.6 L1163.6 305.8 Z" fill="#6a5a48"/><path d="M1142 306 C1146 306.4 1149 308.6 1150 311.6 C1146.5 312 1143 310 1142 306 Z" fill="#5a4430" opacity="0.6"/><path d="M1161.6 311.8 L1165.8 311.4 L1164 315.2 L1161 314.4 Z" fill="#3c3026"/></g>
<g id="dhole" filter="url(#soft)"><path d="M1131.6 381.0C1131.4 382.2 1130.8 386.5 1130.7 388.2C1130.7 389.9 1130.8 390.7 1131.3 391.4C1131.8 392.1 1133.5 392.1 1133.9 392.2" fill="none" stroke="#94582c" stroke-width="2.2" stroke-linecap="round" stroke-linejoin="round"/><path d="M1131.6 379.8 L1131.0 385.5" fill="none" stroke="#94582c" stroke-width="3.85" stroke-linecap="round"/><path d="M1107.4 380.6C1106.9 381.8 1104.9 385.8 1104.6 387.6C1104.2 389.4 1104.8 390.7 1105.3 391.4C1105.8 392.1 1107.1 391.9 1107.4 392.0" fill="none" stroke="#8c5228" stroke-width="2.2" stroke-linecap="round" stroke-linejoin="round"/><path d="M1107.4 379.4 L1105.7 384.9" fill="none" stroke="#8c5228" stroke-width="3.85" stroke-linecap="round"/><path d="M1105.3 369.8C1104.3 370.1 1102.9 373.1 1101.4 375.5C1100.0 377.9 1097.1 382.4 1096.6 384.0C1096.1 385.6 1097.3 385.3 1098.3 385.4C1099.3 385.5 1101.4 385.5 1102.7 384.6C1104.0 383.7 1105.3 381.8 1106.1 380.0C1106.9 378.2 1107.7 375.3 1107.6 373.6C1107.5 371.9 1106.3 369.5 1105.3 369.8Z" fill="url(#t-dhole)"/><path d="M1105.3 371.5C1105.4 370.6 1105.8 369.6 1106.6 369.0C1107.4 368.4 1109.4 367.2 1111.0 366.9C1112.6 366.6 1116.3 366.5 1118.6 366.6C1120.9 366.7 1125.9 367.9 1128.2 367.9C1130.5 367.9 1134.2 367.4 1135.8 366.6C1137.4 365.8 1139.3 363.2 1140.2 362.1C1141.1 361.0 1142.2 358.5 1142.8 358.3C1143.4 358.1 1143.9 360.3 1144.4 360.4C1144.9 360.5 1146.2 358.9 1146.6 359.0C1147.0 359.1 1146.7 360.7 1147.2 361.5C1147.7 362.3 1149.5 364.0 1150.4 364.7C1151.3 365.4 1153.5 366.4 1153.6 366.9C1153.7 367.4 1152.0 368.4 1151.0 368.7C1150.0 369.0 1147.3 368.5 1146.0 369.0C1144.7 369.5 1142.4 371.1 1141.5 372.3C1140.6 373.5 1139.7 376.8 1139.0 378.0C1138.3 379.2 1137.0 381.0 1136.0 381.4C1135.0 381.8 1133.0 381.1 1131.3 381.0C1129.6 380.9 1125.0 381.1 1123.1 380.8C1121.2 380.5 1118.2 378.7 1116.7 378.6C1115.2 378.5 1113.2 380.1 1112.0 380.4C1110.8 380.7 1108.8 381.6 1108.0 381.0C1107.2 380.4 1106.4 377.3 1106.0 376.0C1105.6 374.7 1105.2 372.4 1105.3 371.5Z" fill="url(#b-dhole)"/><path d="M1135.0 380.6C1135.1 381.6 1135.1 384.5 1135.8 386.3C1136.5 388.1 1138.0 390.4 1139.0 391.4C1140.0 392.4 1141.1 392.3 1141.5 392.5" fill="none" stroke="#a06030" stroke-width="2.3" stroke-linecap="round" stroke-linejoin="round"/><path d="M1135.0 379.4 L1135.5 384.1" fill="none" stroke="#a06030" stroke-width="4.02" stroke-linecap="round"/><path d="M1111.2 379.4C1110.8 380.3 1108.8 383.2 1108.6 385.0C1108.4 386.8 1109.5 389.1 1110.3 390.1C1111.1 391.1 1113.0 390.8 1113.5 390.9" fill="none" stroke="#a05a2a" stroke-width="2.4" stroke-linecap="round" stroke-linejoin="round"/><path d="M1111.2 378.2 L1109.6 382.9" fill="none" stroke="#a05a2a" stroke-width="4.20" stroke-linecap="round"/></g>
<g id="ethiopian" filter="url(#soft)"><path d="M1143.5 439.2C1143.5 440.3 1143.6 443.8 1143.7 445.6C1143.8 447.4 1143.8 449.1 1144.3 450.0C1144.8 450.9 1146.5 450.8 1146.9 450.9" fill="none" stroke="#9c7044" stroke-width="2.2" stroke-linecap="round" stroke-linejoin="round"/><path d="M1143.5 438.0 L1143.6 443.2" fill="none" stroke="#9c7044" stroke-width="3.85" stroke-linecap="round"/><path d="M1120.6 439.6C1120.3 440.6 1119.0 443.8 1118.9 445.6C1118.8 447.5 1119.6 449.7 1120.2 450.7C1120.8 451.7 1122.2 451.5 1122.6 451.6" fill="none" stroke="#9a6e44" stroke-width="2.2" stroke-linecap="round" stroke-linejoin="round"/><path d="M1120.6 438.4 L1119.5 443.3" fill="none" stroke="#9a6e44" stroke-width="3.85" stroke-linecap="round"/><path d="M1117.0 425.9C1116.0 426.3 1114.5 428.9 1113.8 431.0C1113.0 433.1 1112.9 436.1 1112.5 438.6C1112.1 441.1 1111.0 444.6 1111.4 445.8C1111.8 447.0 1113.9 446.7 1115.1 445.8C1116.2 444.9 1117.4 442.4 1118.3 440.5C1119.2 438.6 1120.2 436.2 1120.4 434.2C1120.6 432.2 1120.3 429.9 1119.7 428.5C1119.1 427.1 1118.0 425.5 1117.0 425.9Z" fill="url(#t-ethiopian)"/><path d="M1116.6 428.5C1116.5 427.1 1117.5 425.8 1118.6 425.2C1119.7 424.6 1122.5 424.1 1124.6 424.0C1126.7 423.9 1131.6 424.5 1134.2 424.6C1136.8 424.7 1142.2 425.0 1144.3 424.6C1146.4 424.2 1149.0 422.4 1150.1 421.4C1151.2 420.4 1152.3 417.3 1152.9 417.0C1153.5 416.7 1153.9 419.3 1154.3 419.3C1154.7 419.3 1155.4 416.7 1155.8 416.7C1156.2 416.7 1156.3 418.9 1157.0 419.5C1157.7 420.1 1159.5 420.5 1160.9 421.1C1162.3 421.7 1166.9 423.4 1167.2 424.0C1167.5 424.6 1164.6 425.2 1163.4 425.5C1162.2 425.8 1159.4 425.5 1158.3 426.1C1157.2 426.7 1156.0 428.5 1155.1 429.7C1154.2 430.9 1152.2 434.2 1151.3 435.4C1150.4 436.6 1149.1 438.4 1148.0 438.8C1146.9 439.2 1144.8 438.9 1143.1 438.6C1141.4 438.3 1137.3 437.3 1135.4 436.9C1133.5 436.5 1130.4 435.5 1129.1 435.8C1127.8 436.1 1126.9 438.4 1126.0 439.0C1125.1 439.6 1122.9 441.0 1122.0 440.6C1121.1 440.2 1120.2 437.6 1119.5 436.0C1118.8 434.4 1116.7 429.9 1116.6 428.5Z" fill="url(#b-ethiopian)"/><path d="M1147.3 438.2C1147.7 439.2 1148.6 442.3 1149.4 444.3C1150.2 446.3 1151.0 448.9 1152.0 450.0C1153.0 451.1 1154.6 451.0 1155.1 451.2" fill="none" stroke="#a87a4c" stroke-width="2.3" stroke-linecap="round" stroke-linejoin="round"/><path d="M1147.3 437.0 L1148.6 442.0" fill="none" stroke="#a87a4c" stroke-width="4.02" stroke-linecap="round"/><path d="M1124.4 438.6C1124.2 439.4 1123.0 441.4 1123.3 443.1C1123.5 444.8 1124.9 447.6 1125.9 448.8C1126.9 450.0 1128.6 450.0 1129.1 450.2" fill="none" stroke="#b07c48" stroke-width="2.4" stroke-linecap="round" stroke-linejoin="round"/><path d="M1124.4 437.4 L1123.7 441.4" fill="none" stroke="#b07c48" stroke-width="4.20" stroke-linecap="round"/></g>
<g id="africanwolf" filter="url(#soft)"><path d="M1140.7 489.4C1140.6 490.4 1139.9 493.6 1139.9 495.2C1139.9 496.8 1140.0 498.2 1140.5 499.0C1141.0 499.8 1142.7 500.0 1143.1 500.2" fill="none" stroke="#72603e" stroke-width="2.2" stroke-linecap="round" stroke-linejoin="round"/><path d="M1140.7 488.2 L1140.2 493.0" fill="none" stroke="#72603e" stroke-width="3.85" stroke-linecap="round"/><path d="M1115.0 491.0C1114.6 491.7 1112.9 493.9 1112.5 495.2C1112.1 496.5 1112.1 498.3 1112.5 499.0C1112.9 499.7 1114.4 499.5 1114.8 499.6" fill="none" stroke="#6c5a3c" stroke-width="2.2" stroke-linecap="round" stroke-linejoin="round"/><path d="M1115.0 489.8 L1113.5 493.6" fill="none" stroke="#6c5a3c" stroke-width="3.85" stroke-linecap="round"/><path d="M1116.3 478.7C1115.1 478.7 1113.3 481.5 1111.9 483.1C1110.5 484.7 1109.3 486.9 1108.1 488.2C1106.9 489.5 1105.0 490.0 1104.7 490.8C1104.4 491.6 1105.1 492.7 1106.2 492.9C1107.3 493.1 1109.6 493.0 1111.3 492.2C1113.0 491.4 1115.0 489.7 1116.3 488.2C1117.6 486.7 1119.1 484.7 1119.1 483.1C1119.1 481.5 1117.5 478.7 1116.3 478.7Z" fill="url(#t-africanwolf)"/><path d="M1116.0 481.0C1115.9 479.5 1116.9 478.3 1117.8 477.6C1118.7 476.9 1120.9 475.8 1122.7 475.5C1124.5 475.2 1129.2 475.3 1131.6 475.5C1134.0 475.7 1138.3 477.1 1140.5 476.8C1142.7 476.5 1146.6 473.9 1148.1 473.0C1149.6 472.1 1151.2 471.3 1152.0 470.4C1152.8 469.5 1153.7 466.5 1154.2 466.3C1154.7 466.1 1155.2 469.0 1155.6 469.0C1156.0 469.0 1156.7 466.4 1157.0 466.6C1157.3 466.8 1157.3 469.5 1157.7 470.4C1158.1 471.3 1159.3 472.2 1160.0 473.0C1160.7 473.8 1163.2 475.5 1163.1 476.1C1163.0 476.7 1160.6 477.4 1159.6 477.6C1158.6 477.8 1156.7 477.4 1155.8 477.9C1154.9 478.4 1153.6 479.9 1152.6 481.2C1151.6 482.5 1149.2 486.4 1148.1 487.6C1147.0 488.8 1145.5 490.0 1144.5 490.2C1143.5 490.4 1142.2 489.7 1140.5 489.4C1138.8 489.1 1133.5 488.1 1131.6 487.8C1129.7 487.5 1127.2 487.1 1125.9 487.4C1124.6 487.7 1123.0 489.8 1122.0 490.0C1121.0 490.2 1119.3 490.2 1118.5 489.0C1117.7 487.8 1116.1 482.5 1116.0 481.0Z" fill="url(#b-africanwolf)"/><path d="M1143.5 489.3C1143.8 490.3 1144.8 493.5 1145.6 495.2C1146.4 496.9 1147.1 498.8 1148.1 499.7C1149.0 500.6 1150.8 500.4 1151.3 500.5" fill="none" stroke="#7e6642" stroke-width="2.3" stroke-linecap="round" stroke-linejoin="round"/><path d="M1143.5 488.1 L1144.8 493.0" fill="none" stroke="#7e6642" stroke-width="4.02" stroke-linecap="round"/><path d="M1124.8 488.2C1124.9 489.0 1124.7 491.6 1125.3 493.2C1125.9 494.8 1127.4 496.8 1128.4 497.7C1129.5 498.6 1131.1 498.6 1131.6 498.8" fill="none" stroke="#80683f" stroke-width="2.4" stroke-linecap="round" stroke-linejoin="round"/><path d="M1124.8 487.0 L1125.1 491.3" fill="none" stroke="#80683f" stroke-width="4.20" stroke-linecap="round"/></g>
<g id="coyote" filter="url(#soft)"><path d="M1134.8 546.0C1134.9 547.3 1135.0 551.5 1135.2 553.8C1135.4 556.1 1135.8 558.8 1135.9 559.8" fill="none" stroke="#6a5c40" stroke-width="2.0" stroke-linecap="round" stroke-linejoin="round"/><path d="M1134.8 544.8 L1135.0 550.8" fill="none" stroke="#6a5c40" stroke-width="3.50" stroke-linecap="round"/><path d="M1113.4 547.2C1113.3 548.4 1113.0 552.3 1113.0 554.4C1113.0 556.5 1113.2 558.8 1113.7 559.8C1114.2 560.8 1115.5 560.3 1115.8 560.4" fill="none" stroke="#685a40" stroke-width="2.3" stroke-linecap="round" stroke-linejoin="round"/><path d="M1113.4 546.0 L1113.2 551.7" fill="none" stroke="#685a40" stroke-width="4.02" stroke-linecap="round"/><path d="M1110.3 535.6C1109.4 535.7 1107.4 537.9 1106.2 539.6C1105.0 541.3 1103.8 543.5 1102.9 545.7C1102.0 547.9 1100.6 551.3 1100.6 552.6C1100.6 553.9 1101.9 553.8 1102.9 553.3C1104.0 552.8 1105.6 551.2 1106.9 549.7C1108.2 548.2 1109.7 546.1 1110.5 544.3C1111.3 542.5 1111.8 540.3 1111.8 538.9C1111.8 537.5 1111.2 535.5 1110.3 535.6Z" fill="url(#t-coyote)"/><path d="M1110.0 538.5C1109.9 536.8 1110.7 535.4 1111.5 534.6C1112.3 533.8 1114.1 532.8 1115.7 532.5C1117.3 532.2 1121.6 532.2 1123.8 532.2C1126.0 532.2 1130.3 532.9 1131.9 532.2C1133.5 531.5 1135.1 528.2 1135.9 526.8C1136.7 525.4 1137.1 521.8 1137.6 521.4C1138.1 521.0 1138.9 523.7 1139.4 524.0C1139.9 524.3 1141.0 523.9 1141.5 523.6C1142.0 523.3 1142.8 521.2 1143.3 521.4C1143.8 521.6 1144.3 523.9 1145.4 524.8C1146.5 525.7 1151.0 527.4 1151.4 528.1C1151.8 528.8 1149.0 529.5 1148.1 529.7C1147.2 529.9 1145.3 529.0 1144.9 529.9C1144.5 530.8 1145.5 534.3 1145.0 536.2C1144.5 538.1 1142.2 542.8 1141.3 544.3C1140.4 545.8 1139.6 547.1 1138.5 547.4C1137.4 547.7 1134.8 546.5 1133.2 546.4C1131.6 546.3 1128.3 546.5 1126.5 546.6C1124.7 546.7 1121.1 547.1 1119.7 547.4C1118.3 547.7 1117.0 549.0 1116.0 549.0C1115.0 549.0 1113.2 548.9 1112.4 547.5C1111.6 546.1 1110.1 540.2 1110.0 538.5Z" fill="url(#b-coyote)"/><path d="M1137.5 546.4C1137.6 547.6 1137.7 551.7 1137.9 553.8C1138.1 555.9 1138.1 558.2 1138.6 559.2C1139.0 560.2 1140.3 559.7 1140.6 559.8" fill="none" stroke="#7c6c4a" stroke-width="2.4" stroke-linecap="round" stroke-linejoin="round"/><path d="M1137.5 545.2 L1137.7 551.0" fill="none" stroke="#7c6c4a" stroke-width="4.20" stroke-linecap="round"/><path d="M1118.6 547.7C1118.7 548.7 1118.5 552.1 1119.0 553.8C1119.5 555.5 1120.8 556.9 1121.7 557.8C1122.6 558.7 1124.0 558.8 1124.4 559.0" fill="none" stroke="#76664a" stroke-width="2.4" stroke-linecap="round" stroke-linejoin="round"/><path d="M1118.6 546.5 L1118.8 551.5" fill="none" stroke="#76664a" stroke-width="4.20" stroke-linecap="round"/></g>
<g id="greywolf" filter="url(#soft)"><path d="M1131.4 603.7C1131.4 604.8 1131.1 608.4 1131.2 610.4C1131.3 612.4 1131.4 614.8 1131.9 615.8C1132.4 616.8 1133.7 616.3 1134.0 616.4" fill="none" stroke="#705230" stroke-width="2.2" stroke-linecap="round" stroke-linejoin="round"/><path d="M1131.4 602.5 L1131.3 607.9" fill="none" stroke="#705230" stroke-width="3.85" stroke-linecap="round"/><path d="M1104.4 604.6C1103.9 605.6 1102.0 608.6 1101.5 610.4C1101.0 612.2 1101.2 614.3 1101.5 615.2C1101.8 616.1 1103.2 615.9 1103.6 616.0" fill="none" stroke="#6c5030" stroke-width="2.2" stroke-linecap="round" stroke-linejoin="round"/><path d="M1104.4 603.4 L1102.6 608.2" fill="none" stroke="#6c5030" stroke-width="3.85" stroke-linecap="round"/><path d="M1104.2 589.5C1102.9 589.4 1100.7 591.7 1099.5 593.6C1098.3 595.5 1097.6 598.8 1096.8 601.0C1096.0 603.2 1094.9 605.8 1094.9 607.1C1094.9 608.4 1095.7 608.7 1096.8 608.6C1097.9 608.5 1100.0 607.7 1101.5 606.4C1103.0 605.1 1104.7 603.0 1105.6 601.0C1106.5 599.0 1107.3 596.1 1107.1 594.2C1106.9 592.3 1105.5 589.6 1104.2 589.5Z" fill="url(#t-greywolf)"/><path d="M1104.0 592.5C1104.1 591.1 1104.8 590.0 1106.0 589.4C1107.2 588.8 1110.6 588.3 1113.0 588.2C1115.4 588.1 1121.1 588.5 1123.8 588.5C1126.5 588.5 1131.1 588.7 1133.2 588.2C1135.3 587.7 1137.9 585.8 1139.3 584.8C1140.7 583.8 1143.0 581.0 1143.7 580.8C1144.4 580.6 1144.5 583.4 1144.8 583.4C1145.1 583.4 1145.7 581.0 1146.0 581.1C1146.3 581.2 1146.2 583.4 1146.7 584.1C1147.2 584.8 1148.6 585.7 1149.5 586.4C1150.4 587.1 1153.0 588.6 1153.1 589.2C1153.2 589.8 1151.1 590.8 1150.1 591.1C1149.1 591.4 1146.5 590.6 1145.4 591.1C1144.3 591.6 1142.9 593.5 1142.0 594.9C1141.1 596.3 1139.5 600.4 1138.6 601.7C1137.7 603.0 1136.4 604.2 1135.5 604.4C1134.6 604.6 1133.5 603.4 1131.9 603.2C1130.3 603.0 1125.9 603.4 1123.8 603.2C1121.7 603.0 1117.9 601.4 1116.4 601.4C1114.9 601.4 1113.6 602.9 1112.5 603.4C1111.4 603.9 1109.4 605.5 1108.5 605.0C1107.6 604.5 1106.1 601.7 1105.5 600.0C1104.9 598.3 1103.9 593.9 1104.0 592.5Z" fill="url(#b-greywolf)"/><path d="M1135.0 603.7C1135.2 604.8 1135.5 608.5 1135.9 610.4C1136.3 612.3 1136.6 614.3 1137.3 615.2C1138.0 616.1 1139.5 615.9 1140.0 616.0" fill="none" stroke="#7e5e36" stroke-width="2.3" stroke-linecap="round" stroke-linejoin="round"/><path d="M1135.0 602.5 L1135.6 607.9" fill="none" stroke="#7e5e36" stroke-width="4.02" stroke-linecap="round"/><path d="M1110.0 601.4C1110.4 602.4 1111.6 605.1 1112.3 607.1C1113.0 609.1 1113.4 611.8 1114.3 613.1C1115.2 614.4 1117.1 614.4 1117.7 614.7" fill="none" stroke="#805e34" stroke-width="2.5" stroke-linecap="round" stroke-linejoin="round"/><path d="M1110.0 600.2 L1111.4 604.9" fill="none" stroke="#805e34" stroke-width="4.38" stroke-linecap="round"/></g>
</g>
<g id="panel-bc">
<text x="205.5" y="714" font-size="21.5" font-weight="bold" stroke-width="1.7" stroke-linejoin="round">b</text>
<path d="M465.5 701.2 H524.5 V794.2 M465.5 701.2 V725.8 M430.8 725.8 H492.5 V794.2 M430.8 725.8 V746.5 M408.8 794.2 V746.5 H453.2 V794.2" stroke="#111" fill="none" stroke-width="1.65"/>
<path d="M416.6 778.8 H484.6" stroke="#dd2f33" stroke-width="1.6" fill="none"/>
<path d="M410.6 778.8 l9.2 -3.9 l-2 3.9 l2 3.9 Z M490.6 778.8 l-9.2 -3.9 l2 3.9 l-2 3.9 Z" fill="#dd2f33"/>
<path d="M610 701.8 H669 V794.6 M610 701.8 V726 M575.5 726 H637 V794.6 M575.5 726 V747 M553.2 794.6 V747 H598 V794.6" stroke="#111" fill="none" stroke-width="1.65"/>
<path d="M606 779.2 H629" stroke="#dd2f33" stroke-width="1.6" fill="none"/>
<path d="M600 779.2 l9.2 -3.9 l-2 3.9 l2 3.9 Z M635 779.2 l-9.2 -3.9 l2 3.9 l-2 3.9 Z" fill="#dd2f33"/>
<path d="M532.8 692.5 V936.2" stroke="#111" stroke-width="1.7" stroke-dasharray="9.2 8.8" fill="none"/>
<text transform="translate(403 804.6) rotate(-90)" text-anchor="end" font-size="15.75">North American</text>
<text transform="translate(421.8 803.6) rotate(-90)" text-anchor="end" font-size="15.75">canid (P1)</text>
<text transform="translate(454.5 802) rotate(-90)" text-anchor="end" font-size="15.75">P2</text>
<text transform="translate(493.2 803.6) rotate(-90)" text-anchor="end" font-size="15.75">P3 (dire wolf)</text>
<text transform="translate(523.4 805) rotate(-90)" text-anchor="end" font-size="15.75">Grey fox</text>
<text transform="translate(551.4 804.6) rotate(-90)" text-anchor="end" font-size="15.75">North American</text>
<text transform="translate(570 803.6) rotate(-90)" text-anchor="end" font-size="15.75">canid (P1)</text>
<text transform="translate(598.8 802) rotate(-90)" text-anchor="end" font-size="15.75">P2</text>
<text transform="translate(638.8 803.6) rotate(-90)" text-anchor="end" font-size="15.75">P3 (dire wolf)</text>
<text transform="translate(673 805) rotate(-90)" text-anchor="end" font-size="15.75">Grey fox</text>
<text x="533.6" y="955" font-size="15.75" text-anchor="middle">Grey wolf Eurasia</text>
<path d="M423 966.2 V1127.5 H641.2" stroke="#1a1a1a" stroke-width="1.9" fill="none" stroke-linejoin="miter"/>
<path d="M532 973.1 V1131" stroke="#111" stroke-width="1.8" stroke-dasharray="9.5 8.7" fill="none"/>
<path d="M419.4 976.2 H422.5" stroke="#1a1a1a" stroke-width="1.6"/>
<text x="415.2" y="981.1" font-size="16" text-anchor="end">Red wolf</text>
<g><path d="M516 976.2 H553.3" stroke="#f3766c" stroke-width="2.4"/><circle cx="535.8" cy="976.2" r="2.8" fill="#d98a80"/></g>
<g opacity="0.9"><path d="M515 976.2 H553" stroke="#12b4bf" stroke-width="2.7"/><circle cx="532.2" cy="976.2" r="3.0" fill="#12b4bf"/></g>
<path d="M419.4 992.0 H422.5" stroke="#1a1a1a" stroke-width="1.6"/>
<text x="415.2" y="996.9" font-size="16" text-anchor="end">Grey wolf Yellowstone</text>
<g><path d="M519.5 992.0 H557" stroke="#f3766c" stroke-width="2.4"/><circle cx="538.3" cy="992.0" r="2.8" fill="#d98a80"/></g>
<g opacity="0.9"><path d="M512.2 992.0 H551" stroke="#12b4bf" stroke-width="2.7"/><circle cx="531.7" cy="992.0" r="3.0" fill="#12b4bf"/></g>
<path d="M419.4 1007.7 H422.5" stroke="#1a1a1a" stroke-width="1.6"/>
<text x="415.2" y="1012.6" font-size="16" text-anchor="end">Grey wolf Montana</text>
<g><path d="M519.5 1007.7 H557.3" stroke="#f3766c" stroke-width="2.4"/><circle cx="538.3" cy="1007.7" r="2.8" fill="#d98a80"/></g>
<g opacity="0.9"><path d="M515.3 1007.7 H553.3" stroke="#12b4bf" stroke-width="2.7"/><circle cx="534.2" cy="1007.7" r="3.0" fill="#12b4bf"/></g>
<path d="M419.4 1023.5 H422.5" stroke="#1a1a1a" stroke-width="1.6"/>
<text x="415.2" y="1028.4" font-size="16" text-anchor="end">Grey wolf Mexico 1</text>
<g><path d="M516.7 1023.5 H553.5" stroke="#f3766c" stroke-width="2.4"/><circle cx="535" cy="1023.5" r="2.8" fill="#d98a80"/></g>
<g opacity="0.9"><path d="M521.7 1023.5 H559.7" stroke="#12b4bf" stroke-width="2.7"/><circle cx="540.3" cy="1023.5" r="3.0" fill="#12b4bf"/></g>
<path d="M419.4 1039.3 H422.5" stroke="#1a1a1a" stroke-width="1.6"/>
<text x="415.2" y="1044.2" font-size="16" text-anchor="end">Grey wolf Greenland 1</text>
<g><path d="M510 1039.3 H547" stroke="#f3766c" stroke-width="2.4"/><circle cx="528.3" cy="1039.3" r="2.8" fill="#d98a80"/></g>
<g opacity="0.9"><path d="M514.3 1039.3 H553" stroke="#12b4bf" stroke-width="2.7"/><circle cx="533.7" cy="1039.3" r="3.0" fill="#12b4bf"/></g>
<path d="M419.4 1055.0 H422.5" stroke="#1a1a1a" stroke-width="1.6"/>
<text x="415.2" y="1060.0" font-size="16" text-anchor="end">Grey wolf Alaska</text>
<g><path d="M512.5 1055.0 H553.2" stroke="#f3766c" stroke-width="2.4"/><circle cx="532.2" cy="1055.0" r="2.8" fill="#d98a80"/></g>
<g opacity="0.9"><path d="M512 1055.0 H552.5" stroke="#12b4bf" stroke-width="2.7"/><circle cx="531.7" cy="1055.0" r="3.0" fill="#12b4bf"/></g>
<path d="M419.4 1070.8 H422.5" stroke="#1a1a1a" stroke-width="1.6"/>
<text x="415.2" y="1075.7" font-size="16" text-anchor="end">Great lake wolf</text>
<g><path d="M513.3 1070.8 H552" stroke="#f3766c" stroke-width="2.4"/><circle cx="532.5" cy="1070.8" r="2.8" fill="#d98a80"/></g>
<g opacity="0.9"><path d="M515.3 1070.8 H552.8" stroke="#12b4bf" stroke-width="2.7"/><circle cx="533.8" cy="1070.8" r="3.0" fill="#12b4bf"/></g>
<path d="M419.4 1086.6 H422.5" stroke="#1a1a1a" stroke-width="1.6"/>
<text x="415.2" y="1091.5" font-size="16" text-anchor="end">Coyote Missouri</text>
<g><path d="M511.5 1086.6 H548.3" stroke="#f3766c" stroke-width="2.4"/><circle cx="530" cy="1086.6" r="2.8" fill="#d98a80"/></g>
<g opacity="0.9"><path d="M510.8 1086.6 H545" stroke="#12b4bf" stroke-width="2.7"/><circle cx="527.8" cy="1086.6" r="3.0" fill="#12b4bf"/></g>
<path d="M419.4 1102.4 H422.5" stroke="#1a1a1a" stroke-width="1.6"/>
<text x="415.2" y="1107.3" font-size="16" text-anchor="end">Coyote Mexico</text>
<g><path d="M511.7 1102.4 H546" stroke="#f3766c" stroke-width="2.4"/><circle cx="528.3" cy="1102.4" r="2.8" fill="#d98a80"/></g>
<g opacity="0.9"><path d="M513.5 1102.4 H550.3" stroke="#12b4bf" stroke-width="2.7"/><circle cx="531.7" cy="1102.4" r="3.0" fill="#12b4bf"/></g>
<path d="M419.4 1118.1 H422.5" stroke="#1a1a1a" stroke-width="1.6"/>
<text x="415.2" y="1123.0" font-size="16" text-anchor="end">Coyote California</text>
<g><path d="M509.5 1118.1 H543.5" stroke="#f3766c" stroke-width="2.4"/><circle cx="526.5" cy="1118.1" r="2.8" fill="#d98a80"/></g>
<g opacity="0.9"><path d="M508.7 1118.1 H543" stroke="#12b4bf" stroke-width="2.7"/><circle cx="525.8" cy="1118.1" r="3.0" fill="#12b4bf"/></g>
<path d="M465.5 1127.5 V1130.8 M598.4 1127.5 V1130.8" stroke="#1a1a1a" stroke-width="1.6"/>
<text x="475.2" y="1147.8" font-size="15.75" text-anchor="end">–0.2</text>
<text x="532.4" y="1147.8" font-size="15.75" text-anchor="middle">0</text>
<text x="600.2" y="1147.8" font-size="15.75" text-anchor="middle">0.2</text>
<text x="532.8" y="1168.8" font-size="15.75" text-anchor="middle" font-style="italic">D</text>
<text transform="translate(226.6 1045.4) rotate(-90)" text-anchor="middle" font-size="15.75">P1</text>
<path d="M596.5 979 H625.8" stroke="#f3766c" stroke-width="2.2"/><circle cx="611" cy="979" r="3.2" fill="#f3766c"/>
<text x="631.3" y="982.6" font-size="15.75">DireSP</text>
<path d="M596.5 1004.8 H625.8" stroke="#12b4bf" stroke-width="2.2"/><circle cx="611" cy="1004.8" r="3.2" fill="#12b4bf"/>
<text x="631.3" y="1007.6" font-size="15.75">DireGB</text>
<text x="734.5" y="714" font-size="21.5" font-weight="bold" stroke-width="1.7" stroke-linejoin="round">c</text>
<path d="M960.8 702.5 H1020 V795.5 M960.8 702.5 V726.8 M926.5 726.8 H988 V795.5 M926.5 726.8 V747.8 M904 795.5 V747.8 H949 V795.5" stroke="#111" fill="none" stroke-width="1.65"/>
<path d="M912.2 780 H979.8" stroke="#dd2f33" stroke-width="1.6" fill="none"/>
<path d="M906.2 780 l9.2 -3.9 l-2 3.9 l2 3.9 Z M985.8 780 l-9.2 -3.9 l2 3.9 l-2 3.9 Z" fill="#dd2f33"/>
<path d="M1099 702.5 H1158.2 V795.5 M1099 702.5 V727 M1064.8 727 H1126.2 V795.5 M1064.8 727 V748 M1042.5 795.5 V748 H1087 V795.5" stroke="#111" fill="none" stroke-width="1.65"/>
<path d="M1095 780.5 H1118" stroke="#dd2f33" stroke-width="1.6" fill="none"/>
<path d="M1089 780.5 l9.2 -3.9 l-2 3.9 l2 3.9 Z M1124 780.5 l-9.2 -3.9 l2 3.9 l-2 3.9 Z" fill="#dd2f33"/>
<path d="M1029.2 692.5 V936.2" stroke="#111" stroke-width="1.7" stroke-dasharray="9.2 8.8" fill="none"/>
<text transform="translate(906.4 803.8) rotate(-90)" text-anchor="end" font-size="15.75">P1</text>
<text transform="translate(951.8 805.6) rotate(-90)" text-anchor="end" font-size="15.75">African wild dog</text>
<text transform="translate(988.8 803.6) rotate(-90)" text-anchor="end" font-size="15.75">P3 (dire wolf)</text>
<text transform="translate(1019.6 805) rotate(-90)" text-anchor="end" font-size="15.75">Grey fox</text>
<text transform="translate(1046.2 803.8) rotate(-90)" text-anchor="end" font-size="15.75">P1</text>
<text transform="translate(1087.2 805.6) rotate(-90)" text-anchor="end" font-size="15.75">African wild dog</text>
<text transform="translate(1128.2 803.6) rotate(-90)" text-anchor="end" font-size="15.75">P3 (dire wolf)</text>
<text transform="translate(1162.6 805) rotate(-90)" text-anchor="end" font-size="15.75">Grey fox</text>
<text x="1030" y="956.2" font-size="15.75" text-anchor="middle">African wild dog</text>
<path d="M901 967.8 V1124.5 H1160.6" stroke="#1a1a1a" stroke-width="1.9" fill="none"/>
<path d="M897.4 982.5 H900.6" stroke="#1a1a1a" stroke-width="1.6"/>
<text x="893.4" y="987.1" font-size="16" text-anchor="end">Grey wolf Yellowstone</text>
<g><path d="M960.5 982.5 H979.5" stroke="#f3766c" stroke-width="2.4"/><circle cx="970" cy="982.5" r="2.9" fill="#f3766c"/></g>
<g opacity="0.92"><path d="M971.5 982.5 H992.5" stroke="#12b4bf" stroke-width="2.5"/><circle cx="982" cy="982.5" r="3.0" fill="#12b4bf"/></g>
<path d="M897.4 1007.9 H900.6" stroke="#1a1a1a" stroke-width="1.6"/>
<text x="893.4" y="1012.5" font-size="16" text-anchor="end">Grey wolf Eurasia</text>
<g><path d="M964.3 1007.9 H983.3" stroke="#f3766c" stroke-width="2.4"/><circle cx="973.8" cy="1007.9" r="2.9" fill="#f3766c"/></g>
<g opacity="0.92"><path d="M973.7 1007.9 H994.7" stroke="#12b4bf" stroke-width="2.5"/><circle cx="984.2" cy="1007.9" r="3.0" fill="#12b4bf"/></g>
<path d="M897.4 1033.2 H900.6" stroke="#1a1a1a" stroke-width="1.6"/>
<text x="893.4" y="1037.8" font-size="16" text-anchor="end">African wolf</text>
<g><path d="M961.7 1033.2 H980.7" stroke="#f3766c" stroke-width="2.4"/><circle cx="971.2" cy="1033.2" r="2.9" fill="#f3766c"/></g>
<g opacity="0.92"><path d="M972.9 1033.2 H993.9" stroke="#12b4bf" stroke-width="2.5"/><circle cx="983.4" cy="1033.2" r="3.0" fill="#12b4bf"/></g>
<path d="M897.4 1058.5 H900.6" stroke="#1a1a1a" stroke-width="1.6"/>
<text x="893.4" y="1063.1" font-size="16" text-anchor="end">Ethiopian wolf</text>
<g><path d="M965.5 1058.5 H984.5" stroke="#f3766c" stroke-width="2.4"/><circle cx="975" cy="1058.5" r="2.9" fill="#f3766c"/></g>
<g opacity="0.92"><path d="M976.3 1058.5 H997.3" stroke="#12b4bf" stroke-width="2.5"/><circle cx="986.8" cy="1058.5" r="3.0" fill="#12b4bf"/></g>
<path d="M897.4 1083.9 H900.6" stroke="#1a1a1a" stroke-width="1.6"/>
<text x="893.4" y="1088.5" font-size="16" text-anchor="end">Dhole</text>
<g><path d="M976.0 1083.9 H995.0" stroke="#f3766c" stroke-width="2.4"/><circle cx="985.5" cy="1083.9" r="2.9" fill="#f3766c"/></g>
<g opacity="0.92"><path d="M987.7 1083.9 H1008.7" stroke="#12b4bf" stroke-width="2.5"/><circle cx="998.2" cy="1083.9" r="3.0" fill="#12b4bf"/></g>
<path d="M897.4 1109.2 H900.6" stroke="#1a1a1a" stroke-width="1.6"/>
<text x="893.4" y="1113.8" font-size="16" text-anchor="end">Coyote California</text>
<g><path d="M963.0 1109.2 H982.0" stroke="#f3766c" stroke-width="2.4"/><circle cx="972.5" cy="1109.2" r="2.9" fill="#f3766c"/></g>
<g opacity="0.92"><path d="M972.0 1109.2 H993.0" stroke="#12b4bf" stroke-width="2.5"/><circle cx="982.5" cy="1109.2" r="3.0" fill="#12b4bf"/></g>
<path d="M1030.6 971.2 V1128" stroke="#111" stroke-width="1.8" stroke-dasharray="9.3 8.7" fill="none"/>
<path d="M951.8 1124.5 V1127.9 M1109.2 1124.5 V1127.9" stroke="#1a1a1a" stroke-width="1.6"/>
<text x="963" y="1144.2" font-size="15.75" text-anchor="end">–0.2</text>
<text x="1030.8" y="1144.2" font-size="15.75" text-anchor="middle">0</text>
<text x="1111.2" y="1144.2" font-size="15.75" text-anchor="middle">0.2</text>
<text x="1031.2" y="1164" font-size="15.75" text-anchor="middle" font-style="italic">D</text>
<text transform="translate(733.2 1044.2) rotate(-90)" text-anchor="middle" font-size="15.75">P1</text>
<path d="M1114.2 979.2 H1143.6" stroke="#f3766c" stroke-width="2.2"/><circle cx="1128.8" cy="979.2" r="3.2" fill="#f3766c"/>
<text x="1148.3" y="982.6" font-size="15.75">DireSP</text>
<path d="M1114.2 1005.2 H1143.6" stroke="#12b4bf" stroke-width="2.2"/><circle cx="1128.8" cy="1005.2" r="3.2" fill="#12b4bf"/>
<text x="1148.3" y="1008.3" font-size="15.75">DireGB</text>
</g>
<g id="caption">
<text id="c0" class="cap" x="9.6" y="1209.9" letter-spacing="0.786"><tspan font-weight="bold">Fig. 2 </tspan>|<tspan font-weight="bold"> Relationships among living and extinct wolf-like canids.</tspan></text>
<text id="c1" class="cap" x="9.6" y="1236.2" letter-spacing="0.825"><tspan font-weight="bold">a</tspan>, Time-scaled nuclear phylogeny generated in MCMCtree based on the</text>
<text id="c2" class="cap" x="9.6" y="1262.5" letter-spacing="0.875">best-scoring maximum likelihood species tree topology obtained from BPP</text>
<text id="c3" class="cap" x="9.6" y="1288.9" letter-spacing="0.762">and SNAPP. Values associated with nodes are mean age estimates (millions of</text>
<text id="c4" class="cap" x="9.6" y="1315.2" letter-spacing="0.935">years before present) and bars represent 95% highest posterior densities. The</text>
<text id="c5" class="cap" x="9.6" y="1341.5" letter-spacing="0.971">inset table shows the levels of support for the three possible arrangements of</text>
<text id="c6" class="cap" x="9.6" y="1367.8" letter-spacing="0.677">the dire wolf (red), the African jackals (orange) and the remaining wolf-like</text>
<text id="c7" class="cap" x="9.6" y="1394.2" letter-spacing="0.851">canids (blue) that we obtained using different analytical frameworks when</text>
<text id="c8" class="cap" x="9.6" y="1420.5" letter-spacing="0.894">including either one or both of our two highest coverage dire wolf samples</text>
<text id="c9" class="cap" x="9.6" y="1446.9" letter-spacing="0.727">(DireSP and DireGB). Although only one dire wolf branch is depicted in the tree,</text>
<text id="c10" class="cap" x="9.6" y="1473.2" letter-spacing="0.75">multiple dire wolf individuals were included in some analyses as they form a</text>
<text id="c11" class="cap" x="9.6" y="1499.6" letter-spacing="0.624">monophyletic clade (for example, Supplementary Figs. 12, 13, 15). <tspan font-weight="bold">b</tspan>, Results of</text>
<text id="c12" class="cap" x="9.6" y="1526.0" letter-spacing="0.842"><tspan font-style="italic">D</tspan>-statistics used to assess the possibility of gene flow between the dire wolf</text>
<text id="c13" class="cap" x="9.6" y="1552.5" letter-spacing="0.938">and extant North American canids. Each dot represents the mean <tspan font-style="italic">D</tspan> calculated</text>
<text id="c14" class="cap" x="714.6" y="1209.9" letter-spacing="1.056">along the genome and the error bar represents 3 standard deviations</text>
<text id="c15" class="cap" x="714.6" y="1236.2" letter-spacing="0.848">computed using a weighted block jackknife procedure over 5-Mb blocks across</text>
<text id="c16" class="cap" x="714.6" y="1262.5" letter-spacing="0.828">the genome. <tspan font-style="italic">Z</tspan> values of |<tspan font-style="italic">Z</tspan>| &gt; 3 were considered significant. These plots show</text>
<text id="c17" class="cap" x="714.6" y="1288.9" letter-spacing="0.861">that the dire wolf genomes do not share significantly more derived alleles with</text>
<text id="c18" class="cap" x="714.6" y="1315.2" letter-spacing="0.773">extant North American canids compared to Eurasian wolves (values of <tspan font-style="italic">D</tspan> were</text>
<text id="c19" class="cap" x="714.6" y="1341.5" letter-spacing="0.892">not significantly different from zero), suggesting that no hybridization</text>
<text id="c20" class="cap" x="714.6" y="1367.8" letter-spacing="0.979">occurred between the dire wolf and the ancestor of extant North American</text>
<text id="c21" class="cap" x="714.6" y="1394.2" letter-spacing="0.811">canids. Non-significant D-statistics were also obtained using an alternative</text>
<text id="c22" class="cap" x="714.6" y="1420.5" letter-spacing="0.76">reference genome and using the African wolf as P2 (Supplementary Fig. 18 and</text>
<text id="c23" class="cap" x="714.6" y="1446.9" letter-spacing="0.744">Supplementary Data 14). <tspan font-weight="bold">c</tspan>, Results of <tspan font-style="italic">D</tspan>-statistics showing the existence of an</text>
<text id="c24" class="cap" x="714.6" y="1473.2" letter-spacing="0.858">ancient gene flow event between the ancestor of the dhole, Ethiopian wolf,</text>
<text id="c25" class="cap" x="714.6" y="1499.6" letter-spacing="0.709">African wolf, grey wolf and coyotes and the lineage of the dire wolf (consistently</text>
<text id="c26" class="cap" x="714.6" y="1526.0" letter-spacing="0.653">non-zero values of <tspan font-style="italic">D</tspan> regardless of P1). P1, P2 and P3 in the tree schematic</text>
<text id="c27" class="cap" x="714.6" y="1552.5" letter-spacing="1.085">represent genomes that are used in the admixture test.</text>
</g>
</svg>
</body></html>
